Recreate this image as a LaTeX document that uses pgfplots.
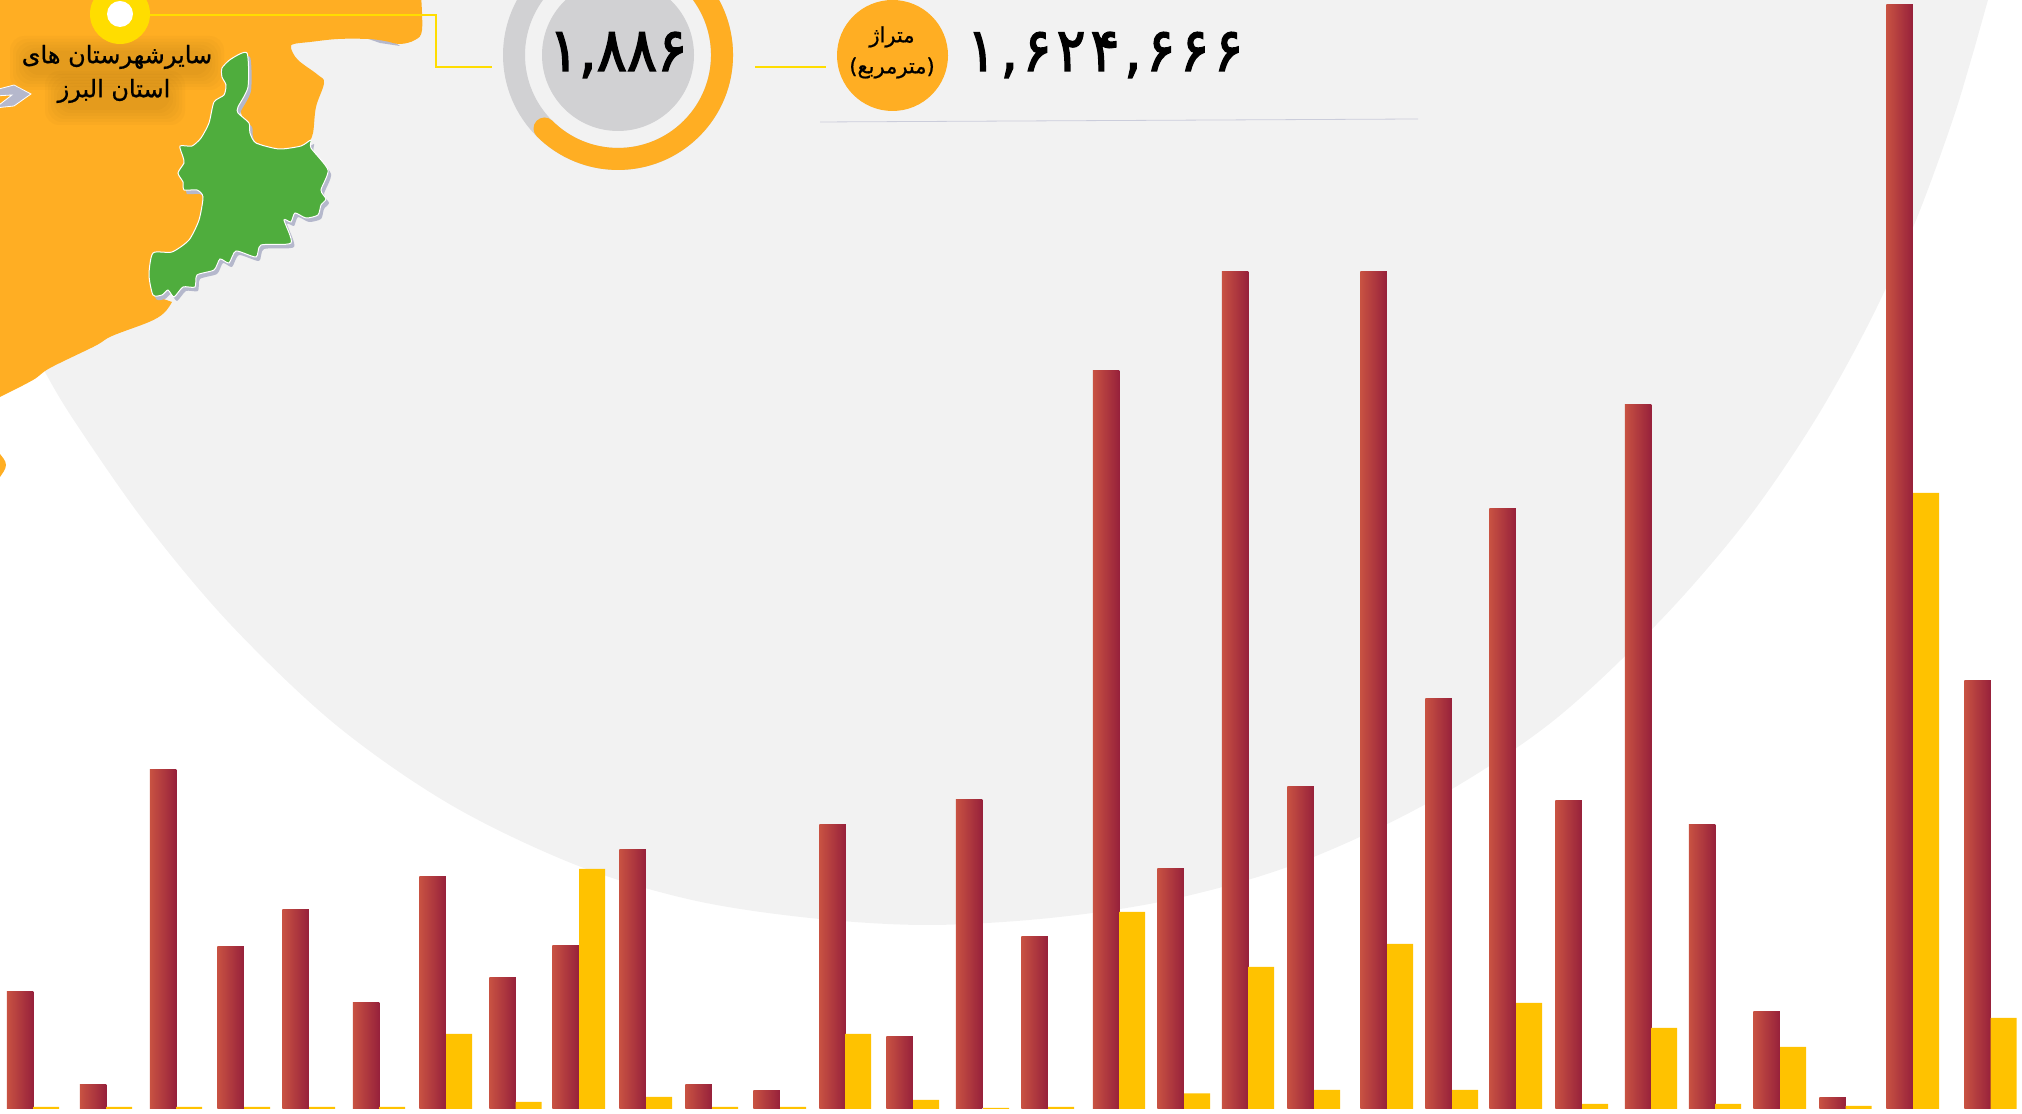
\documentclass[border=0pt]{standalone}
\usepackage{fontspec}
\usepackage{pgfplots}
\pgfplotsset{compat=1.18}
\usepackage{pgfplotstable}
\TeXXeTstate=1
\setmainfont{DejaVu Sans}
\newfontfamily\fa[Script=Arabic,FakeBold=0.8]{DejaVu Sans}
\newfontfamily\fanum[FakeBold=2.5]{DejaVu Sans}
\newfontfamily\fanumw[FakeBold=2.5,LetterSpace=9]{DejaVu Sans}
\definecolor{bgg}{HTML}{F2F2F2}
\definecolor{org}{HTML}{FFAE23}
\definecolor{grn}{HTML}{4FAD3D}
\definecolor{yl}{HTML}{FFDD00}
\definecolor{ringg}{HTML}{D1D1D3}
\definecolor{shd}{HTML}{B5B8CC}
\definecolor{barY}{HTML}{FFC200}
\definecolor{barL}{HTML}{C85242}
\definecolor{barR}{HTML}{97213B}
\pgfplotstableread{
x h
46 2
119 2
189 2
257 2
322 2
392 2
459 75
528.5 7
592 240
659 12
725 2
793 2
858 75
926 9
996 1
1061 2
1132 197
1197 15.5
1261 142
1327 19
1400 165
1465 19
1529 106
1595 5
1664 81
1728 5
1793 62
1858.5 3
1926 616
2003.5 91
}\yellowbars
\def\greenshape{(247,53) (231,59) (222,68) (222,77) (226,85) (224,95) (214,102) (209,123) (201,138) (192,146) (180,146) (183,157) (184,163) (178,173) (183,182) (184,190) (197,190) (203,197) (199,220) (189,240) (172,252) (153,253) (149,275) (153,295) (162,295) (168,290) (174,297) (183,287) (195,287) (197,275) (214,270) (220,259) (229,263) (236,251) (256,257) (261,245) (291,243) (284,220) (291,222) (295,213) (306,218) (318,215) (321,205) (326,199) (321,190) (328,170) (311,148) (311,140) (301,146) (279,149) (256,143) (250,133) (249,123) (238,113) (238,107) (248,87)}
\begin{document}
\begin{tikzpicture}
\useasboundingbox (0,0) rectangle (1011pt,556.5pt);
\begin{scope}
\clip (0,0) rectangle (1011pt,556.5pt);
\begin{scope}[shift={(0,556.5pt)},x=0.5pt,y=-0.5pt]
% big grey disc
\fill[bgg] plot[smooth,tension=0.55] coordinates {(2000,-40) (1988,0) (1971,60) (1951,125) (1914,225) (1868,325) (1812,425) (1743,525) (1656,625) (1548,725) (1424,805) (1293,865) (1169,900) (1050,918) (927,925) (810,918) (692,900) (576,865) (451,805) (336,725) (231,625) (147,525) (77,425) (45,372) (11,305)} -- (-10,-40) -- cycle;
% small slivers
\fill[shd] (360,36) -- (385,36) -- (400,46) -- (380,43) -- cycle;
% orange land
\fill[org] (-5,-5) -- (420,-5) -- plot[smooth,tension=0.6] coordinates {(421,-5) (422,30) (415,40) (400,44) (385,41) (368,39) (338,39) (310,42) (294,44) (291,48) (298,60) (318,75) (324,83) (316,107) (313,133) (308,145)} -- (280,152) -- (250,140) -- (240,110) -- (240,60) -- (230,100) -- (230,220) -- (200,260) -- (165,285) -- (155,296) -- plot[smooth,tension=0.6] coordinates {(172,302) (164,313) (149,322) (112,336) (95,346) (50,368) (33,380) (0,397) (-6,400)} -- cycle;
\fill[org] plot[smooth,tension=0.7] coordinates {(-3,452) (0,454) (6,465) (0,477) (-3,480)} -- cycle;
% chevron
\fill[shd,draw=white,line width=0.4pt] (-5,90) -- (14,85) -- (31,94) -- (14,106) -- (-5,108) -- (12,95) -- (-5,96) -- cycle;
% green
\fill[shd,shift={(3,4)}] plot[smooth cycle,tension=0.4] coordinates {\greenshape};
\filldraw[fill=grn,draw=white,line width=0.5pt] plot[smooth cycle,tension=0.4] coordinates {\greenshape};
% label, with its soft shadow
\foreach \m in {15,12,9,6,3,0}{
\fill[black!55!org,opacity=0.03,rounded corners=7pt] (25-\m,51-\m) rectangle (209+\m,75+\m);
\fill[black!55!org,opacity=0.03,rounded corners=7pt] (60-\m,86-\m) rectangle (170+\m,110+\m);
}
\node[font=\fa\fontsize{12}{14}\selectfont,inner sep=0pt] at (117,57) {\beginR سایرشهرستان های\endR};
\node[font=\fa\fontsize{12}{14}\selectfont,inner sep=0pt] at (114,91) {\beginR استان البرز\endR};
% leader
\fill[yl] (120,14) circle [radius=30];
\fill[white] (120,14) circle [radius=13];
\draw[yl,line width=1.4pt] (150,15) -- (436,15) -- (436,67) -- (492,67);
\draw[yl,line width=1.4pt] (755,67) -- (826,67);
% ring
\draw[ringg,line width=11pt] (618,55) circle [radius=104];
\fill[ringg] (618,55) circle [radius=76];
\draw[org,line width=11pt,line cap=round] (544.5,128.5) arc[start angle=135,end angle=-100,radius=104];
\node[inner sep=0pt] at (618,55) {\scalebox{1.04}[1.12]{\fanum\fontsize{27}{30}\selectfont ۱,۸۸۶}};
% area circle
\fill[org] (892.5,55.5) circle [radius=55.5];
\node[font=\fa\fontsize{10.5}{12}\selectfont,inner sep=0pt] at (892,37) {\beginR متراژ\endR};
\node[font=\fa\fontsize{10.5}{12}\selectfont,inner sep=0pt] at (892,68) {\beginR (مترمربع)\endR};
\node[inner sep=0pt] at (1105,55) {\scalebox{1.0}[1.12]{\fanumw\fontsize{27}{30}\selectfont ۱,۶۲۴,۶۶۶}};
\draw[shd!70,line width=0.4pt] (820,122) -- (1418,119);
\end{scope}
\end{scope}
\begin{axis}[
  at={(0,0)},anchor=south west,scale only axis,
  width=1011pt,height=556.5pt,
  xmin=0,xmax=2022,ymin=-4,ymax=1109,
  hide axis,
  ybar,
  redbar/.style={ybar,bar width=13.25pt,bar shift=0pt,draw=none,left color=barL,right color=barR},
]
\addplot[redbar] coordinates {(20,117)};
\addplot[redbar] coordinates {(93,24)};
\addplot[redbar] coordinates {(163,339)};
\addplot[redbar] coordinates {(230.5,162.5)};
\addplot[redbar] coordinates {(295.5,199)};
\addplot[redbar] coordinates {(366,106)};
\addplot[redbar] coordinates {(432.5,232)};
\addplot[redbar] coordinates {(502.5,131)};
\addplot[redbar] coordinates {(565.5,163)};
\addplot[redbar] coordinates {(632.5,259)};
\addplot[redbar] coordinates {(698.5,24)};
\addplot[redbar] coordinates {(766.5,18)};
\addplot[redbar] coordinates {(832.5,284)};
\addplot[redbar] coordinates {(899.5,72)};
\addplot[redbar] coordinates {(969,309)};
\addplot[redbar] coordinates {(1034.5,172)};
\addplot[redbar] coordinates {(1106,738)};
\addplot[redbar] coordinates {(1170.5,240)};
\addplot[redbar] coordinates {(1235,837)};
\addplot[redbar] coordinates {(1300.5,322)};
\addplot[redbar] coordinates {(1373.5,837)};
\addplot[redbar] coordinates {(1438.5,410)};
\addplot[redbar] coordinates {(1502.5,600)};
\addplot[redbar] coordinates {(1568.5,308)};
\addplot[redbar] coordinates {(1638,704)};
\addplot[redbar] coordinates {(1702,284)};
\addplot[redbar] coordinates {(1766.5,97)};
\addplot[redbar] coordinates {(1832.5,11)};
\addplot[redbar] coordinates {(1899.5,1104)};
\addplot[redbar] coordinates {(1977.5,428)};
\addplot[ybar,bar width=13pt,bar shift=0pt,draw=none,fill=barY] table[x=x,y=h] {\yellowbars};
\end{axis}
\end{tikzpicture}
\end{document}
